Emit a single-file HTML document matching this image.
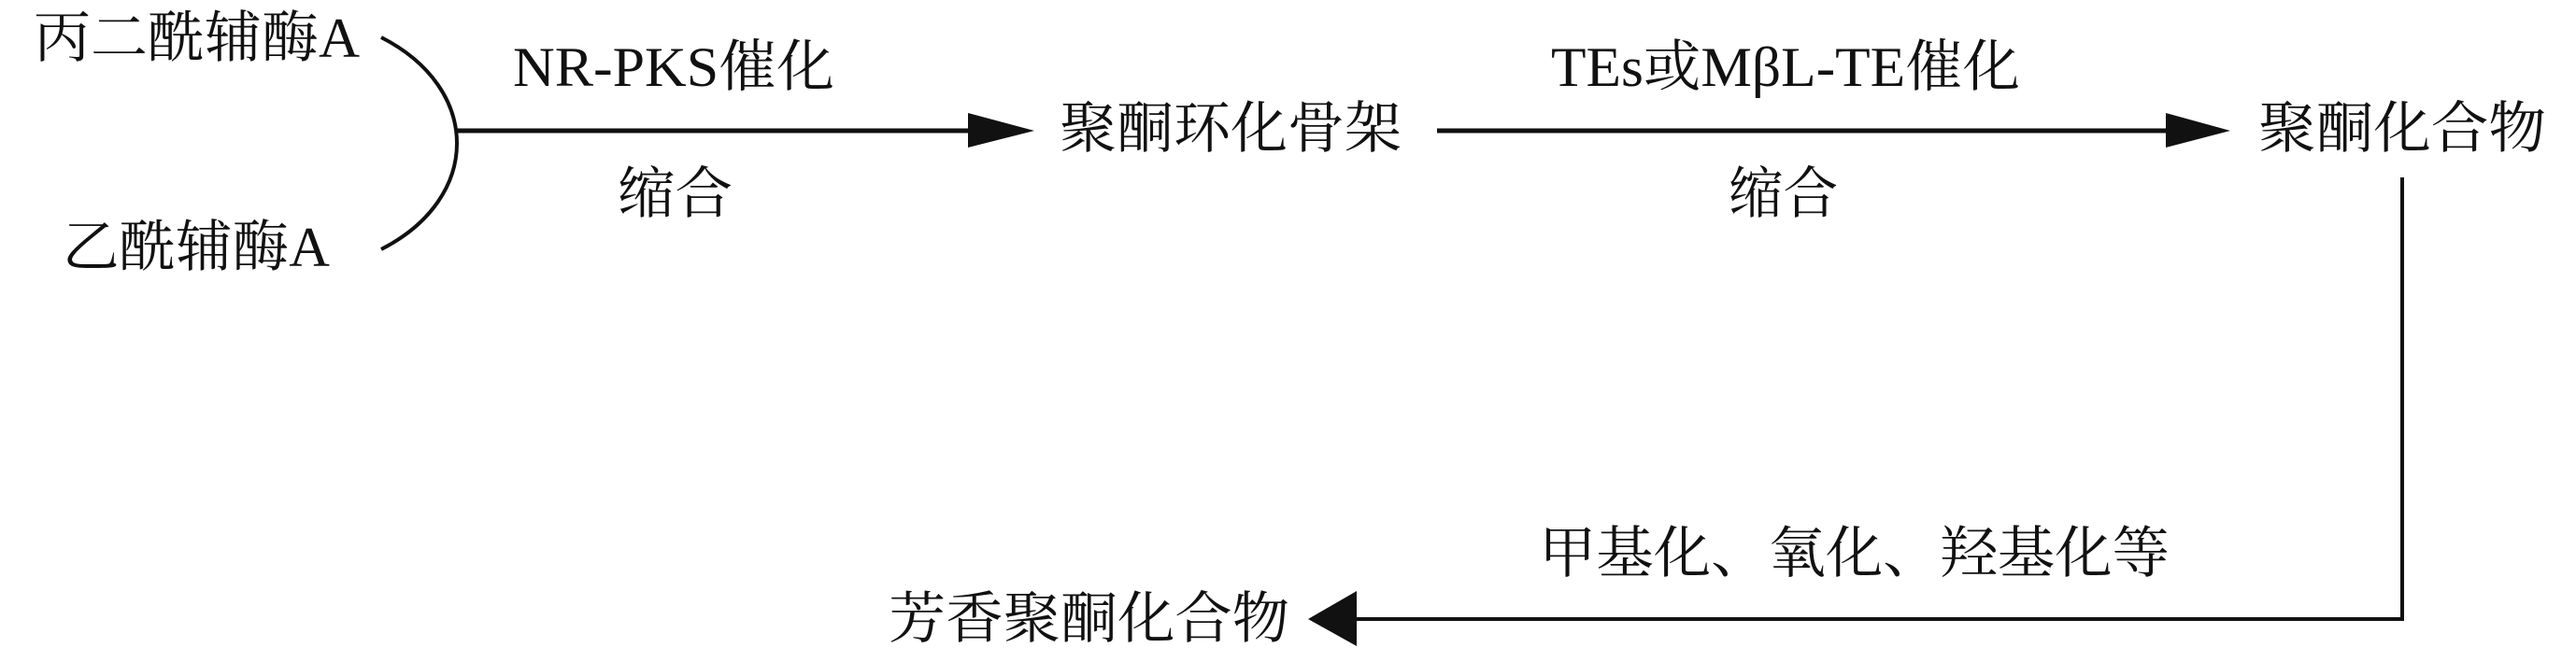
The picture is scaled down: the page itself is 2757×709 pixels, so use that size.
<!DOCTYPE html>
<html><head><meta charset="utf-8"><style>html,body{margin:0;padding:0;background:#fff;}svg{display:block}</style></head>
<body>
<svg width="2757" height="709" viewBox="0 0 2757 709" xmlns="http://www.w3.org/2000/svg">
<g font-family="'Liberation Serif','Noto Serif CJK SC',serif" font-size="60" fill="#111">
<text x="36" y="61" textLength="349" lengthAdjust="spacingAndGlyphs">丙二酰辅酶A</text>
<text x="67" y="285" textLength="286" lengthAdjust="spacingAndGlyphs">乙酰辅酶A</text>
<text x="549" y="92" textLength="344" lengthAdjust="spacingAndGlyphs">NR-PKS催化</text>
<text x="661" y="228" textLength="123" lengthAdjust="spacingAndGlyphs">缩合</text>
<text x="1134" y="158" textLength="366" lengthAdjust="spacingAndGlyphs">聚酮环化骨架</text>
<text x="1660" y="92" textLength="502" lengthAdjust="spacingAndGlyphs">TEs或MβL-TE催化</text>
<text x="1850" y="228" textLength="117" lengthAdjust="spacingAndGlyphs">缩合</text>
<text x="2417" y="158" textLength="308" lengthAdjust="spacingAndGlyphs">聚酮化合物</text>
<text x="1647" y="613" textLength="675" lengthAdjust="spacingAndGlyphs">甲基化、氧化、羟基化等</text>
<text x="951" y="683" textLength="429" lengthAdjust="spacingAndGlyphs">芳香聚酮化合物</text>
</g>
<g stroke="#111" fill="none">
<path d="M408,40 C516,95 516,212 408,267" stroke-width="4"/>
<line x1="487" y1="140" x2="1040" y2="140" stroke-width="5"/>
<line x1="1538" y1="140" x2="2320" y2="140" stroke-width="5"/>
<polyline points="2571,190 2571,663 1450,663" stroke-width="4"/>
</g>
<g fill="#111">
<polygon points="1036,121 1107,140 1036,158"/>
<polygon points="2318,121 2387,140 2318,158"/>
<polygon points="1452,633 1400,663 1452,692"/>
</g>
</svg>
</body></html>
